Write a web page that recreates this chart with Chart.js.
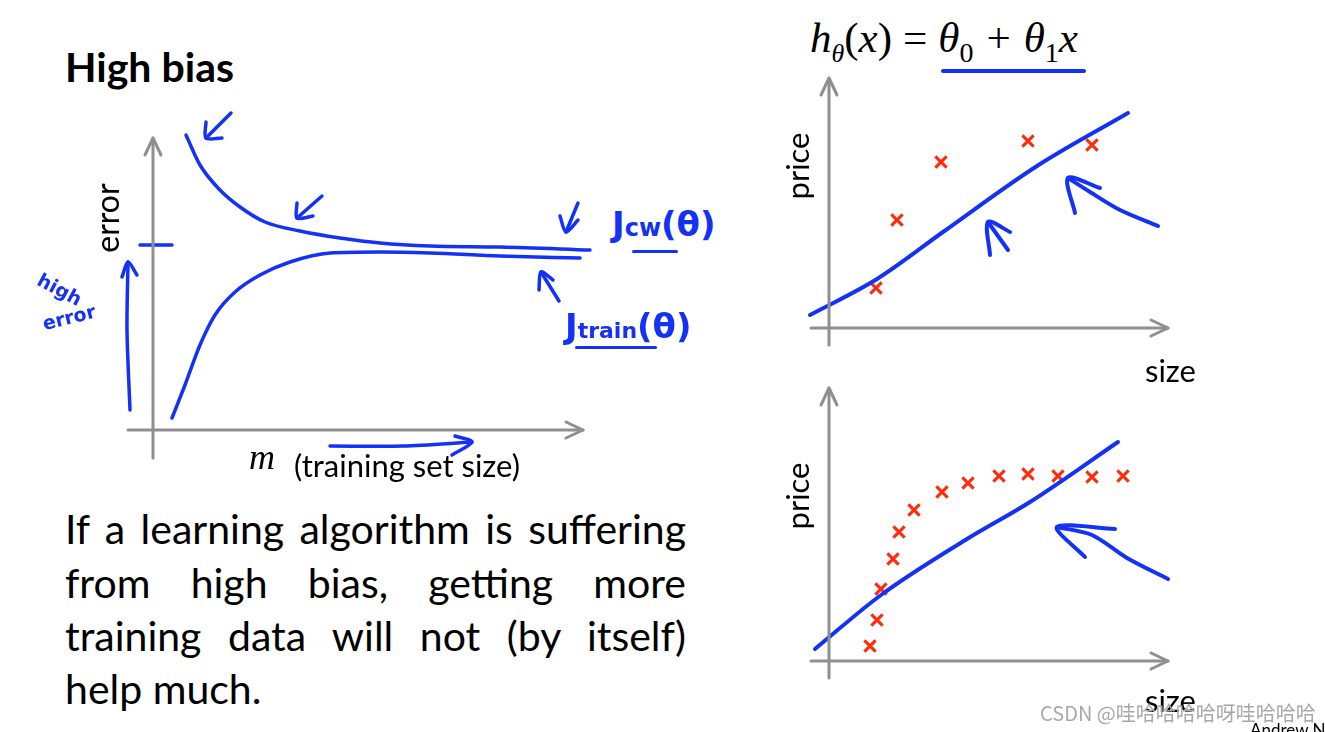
<!DOCTYPE html>
<html>
<head>
<meta charset="utf-8">
<script src="https://cdn.jsdelivr.net/npm/chart.js@4/dist/chart.umd.min.js"></script>
<style>
  body { margin: 0; background: #fff; width: 1325px; height: 732px; overflow: hidden; position: relative; font-family: Lato, "Open Sans", sans-serif; }
  canvas { position: absolute; }
  .t { position: absolute; white-space: nowrap; color: #000; line-height: 1; }
  .hand { position: absolute; white-space: nowrap; color: #1432f5; font-family: "DejaVu Sans", sans-serif; font-weight: bold; line-height: 1; }
  .body-line { position: absolute; left: 65px; width: 621px; font-size: 41px; line-height: 1; text-align: justify; text-align-last: justify; white-space: nowrap; }
  .serif { font-family: "Liberation Serif", "DejaVu Serif", serif; font-style: italic; }
  .up { font-style: normal; }
</style>
</head>
<body>

<canvas id="curveChart" width="500" height="370" style="left:100px;top:100px"></canvas>
<canvas id="fitTop" width="380" height="290" style="left:800px;top:70px"></canvas>
<canvas id="fitBottom" width="380" height="310" style="left:800px;top:380px"></canvas>

<div class="t" style="left:65px;top:46px;font-size:41px;font-weight:bold">High bias</div>

<div class="body-line" style="top:508px">If a learning algorithm is suffering</div>
<div class="body-line" style="top:562px">from high bias, getting more</div>
<div class="body-line" style="top:615px">training data will not (by itself)</div>
<div class="t" style="left:65px;top:668px;font-size:41px">help much.</div>

<!-- learning curve labels -->
<div class="t" style="left:107px;top:218px;font-size:32px;transform:translate(-50%,-50%) rotate(-90deg)">error</div>
<div class="t serif" style="left:249px;top:439px;font-size:36px">m</div>
<div class="t" style="left:294px;top:450px;font-size:31px">(training set size)</div>
<div class="hand" style="left:36px;top:280px;font-size:19px;transform:rotate(28deg)">high</div>
<div class="hand" style="left:42px;top:308px;font-size:19px;transform:rotate(-14deg)">error</div>
<div class="hand" style="left:612px;top:207px;font-size:34px">J<span style="font-size:24px">cw</span>(θ)</div>
<div class="hand" style="left:565px;top:309px;font-size:34px">J<span style="font-size:22px">train</span>(θ)</div>

<!-- right side labels -->
<div class="t serif" style="left:810px;top:16px;font-size:43px">h<sub style="font-size:26px">θ</sub><span class="up">(</span>x<span class="up">)</span><span class="up" style="margin:0 11px">=</span>θ<sub class="up" style="font-size:28px">0</sub><span class="up" style="margin:0 13px">+</span>θ<sub class="up" style="font-size:28px">1</sub>x</div>
<div class="t" style="left:797px;top:166px;font-size:31px;transform:translate(-50%,-50%) rotate(-90deg)">price</div>
<div class="t" style="left:1145px;top:355px;font-size:31px">size</div>
<div class="t" style="left:797px;top:496px;font-size:31px;transform:translate(-50%,-50%) rotate(-90deg)">price</div>
<div class="t" style="left:1145px;top:685px;font-size:31px">size</div>
<div class="t" style="left:1040px;top:703px;font-size:20px;color:#a8a8a8;font-family:'Noto Sans CJK SC',sans-serif">CSDN @哇哈哈哈哈呀哇哈哈哈</div>
<div class="t" style="left:1250px;top:721px;font-size:17px">Andrew N</div>

<script>
const BLUE = '#1432f5';
const RED = '#ff2a0a';
const GRAY = '#8f8f8f';

// learning curve (x = training set size, y = error)
const cvX = [1.65, 2.35, 3.35, 4.35, 5.6, 7.35, 9.35, 11.35, 13.85, 17.35, 21.85];
const cvY = [14.75, 13.25, 12.0, 11.15, 10.4, 9.95, 9.6, 9.35, 9.2, 9.15, 9.0];
const trainX = [0.95, 1.6, 2.35, 3.1, 4.1, 5.35, 6.85, 8.85, 11.35, 13.85, 17.35, 21.35];
const trainY = [0.6, 2.25, 4.25, 5.75, 6.9, 7.75, 8.4, 8.85, 8.9, 8.85, 8.7, 8.6];

// top fit: housing data + straight line
const topSize = [4.7, 6.8, 11.2, 19.9, 26.3];
const topPrice = [4.0, 10.8, 16.6, 18.7, 18.3];
const topLineX = [-1.9, 4.8, 11.4, 20.8, 29.9];
const topLineY = [1.3, 4.9, 9.6, 16.2, 21.5];

// bottom fit: more data, same line
const botSize = [4.1, 4.8, 5.2, 6.4, 7.0, 8.5, 11.3, 13.9, 17.0, 19.9, 22.9, 26.3, 29.4];
const botPrice = [1.5, 4.1, 7.2, 10.2, 12.9, 15.1, 16.9, 17.8, 18.5, 18.7, 18.5, 18.4, 18.5];
const botLineX = [-1.4, 5.2, 13.8, 20.1, 28.9];
const botLineY = [1.2, 6.6, 12.2, 15.9, 21.9];

// hand-drawn strokes, in chart units
const curveStrokes = [
  [[3.9, 15.85], [2.65, 14.6]], [[2.65, 15.4], [2.65, 14.6], [3.45, 14.6]],
  [[8.45, 11.7], [7.2, 10.6]], [[7.2, 11.35], [7.2, 10.6], [8.0, 10.7]],
  [[21.25, 11.35], [20.65, 9.9]], [[20.35, 10.7], [20.65, 9.9], [21.25, 10.5]],
  [[20.3, 6.45], [19.4, 7.9]], [[19.3, 7.0], [19.4, 7.9], [20.0, 7.5]],
  [[-1.15, 1.0], [-1.3, 5.0], [-1.25, 8.4]], [[-1.55, 7.65], [-1.25, 8.4], [-0.8, 7.75]],
  [[8.85, -0.8], [12.5, -0.8], [15.95, -0.6]], [[15.1, -0.3], [15.95, -0.6], [14.95, -1.25]],
  [[-0.65, 9.25], [0.95, 9.25]]
];
const topStrokes = [
  [[32.9, 10.2], [29.1, 11.8], [26.1, 13.6], [23.9, 15.0]], [[27.1, 14.0], [23.9, 15.0], [24.6, 11.5]],
  [[17.9, 7.8], [15.9, 10.6]], [[16.1, 7.3], [15.9, 10.6], [18.1, 9.6]]
];
const botStrokes = [
  [[33.9, 8.2], [29.8, 10.3], [26.3, 12.6], [22.8, 13.4]], [[28.6, 13.2], [22.8, 13.4], [25.6, 10.4]]
];

function pts(xs, ys) {
  return xs.map((x, i) => ({ x: x, y: ys[i] }));
}
function strokeSet(p, color, w) {
  return { data: p.map(q => ({ x: q[0], y: q[1] })), showLine: true, borderColor: color, borderWidth: w,
           pointRadius: 0, tension: 0.3, borderCapStyle: 'round', borderJoinStyle: 'round', fill: false };
}
function axes(xLo, xHi, yLo, yHi, h) {
  return [
    strokeSet([[0, yLo], [0, yHi]], GRAY, 3),
    strokeSet([[xLo, 0], [xHi, 0]], GRAY, 3),
    { ...strokeSet([[-h[0], yHi - h[1]], [0, yHi], [h[0], yHi - h[1]]], GRAY, 3), tension: 0 },
    { ...strokeSet([[xHi - h[2], h[3]], [xHi, 0], [xHi - h[2], -h[3]]], GRAY, 3), tension: 0 }
  ];
}
function makeChart(id, datasets, xr, yr) {
  new Chart(document.getElementById(id), {
    type: 'scatter',
    data: { datasets: datasets },
    options: {
      responsive: false,
      animation: false,
      layout: { padding: 0, autoPadding: false },
      plugins: { legend: { display: false }, tooltip: { enabled: false } },
      scales: {
        x: { type: 'linear', min: xr[0], max: xr[1], display: false },
        y: { type: 'linear', min: yr[0], max: yr[1], display: false }
      }
    }
  });
}
function crosses(xs, ys) {
  return { data: pts(xs, ys), pointStyle: 'crossRot', pointRadius: 8, pointBorderWidth: 3,
           borderColor: RED, pointBorderColor: RED, showLine: false };
}

makeChart('curveChart', [
  ...axes(-1.25, 21.5, -1.4, 14.6, [0.4, 0.85, 0.85, 0.4]),
  { ...strokeSet([], BLUE, 3.5), data: pts(cvX, cvY), cubicInterpolationMode: 'monotone' },
  { ...strokeSet([], BLUE, 3.5), data: pts(trainX, trainY), cubicInterpolationMode: 'monotone' },
  ...curveStrokes.map(s => strokeSet(s, BLUE, 3.5))
], [-2.65, 22.35], [-2.0, 16.5]);

makeChart('fitTop', [
  ...axes(-1.8, 33.9, -1.7, 25.0, [0.8, 1.7, 1.7, 0.8]),
  { ...strokeSet([], BLUE, 4), data: pts(topLineX, topLineY), cubicInterpolationMode: 'monotone' },
  crosses(topSize, topPrice),
  ...topStrokes.map(s => strokeSet(s, BLUE, 4))
], [-2.9, 35.1], [-3.2, 25.8]);

makeChart('fitBottom', [
  ...axes(-1.8, 33.9, -1.7, 27.3, [0.8, 1.7, 1.7, 0.8]),
  { ...strokeSet([], BLUE, 4), data: pts(botLineX, botLineY), cubicInterpolationMode: 'monotone' },
  crosses(botSize, botPrice),
  ...botStrokes.map(s => strokeSet(s, BLUE, 4))
], [-2.9, 35.1], [-2.9, 28.1]);
</script>
<div style="position:absolute;left:941px;top:69px;width:145px;height:4px;background:#1432f5;border-radius:2px"></div>
<div style="position:absolute;left:632px;top:250px;width:46px;height:3px;background:#1432f5;border-radius:2px"></div>
<div style="position:absolute;left:575px;top:346px;width:82px;height:3px;background:#1432f5;border-radius:2px"></div>
</body>
</html>
